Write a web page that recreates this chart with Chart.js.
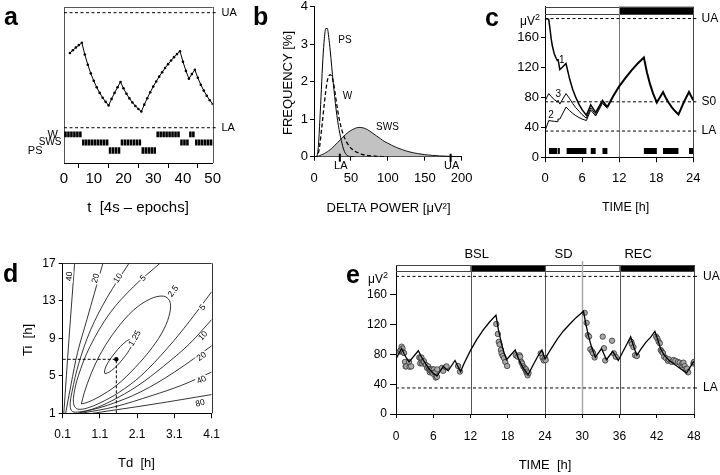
<!DOCTYPE html>
<html><head><meta charset="utf-8">
<script src="https://cdn.jsdelivr.net/npm/chart.js@4.4.1/dist/chart.umd.min.js"></script>
<style>
html,body{margin:0;padding:0;background:#fff;}
#wrap{position:relative;width:720px;height:475px;overflow:hidden;background:#fff;}
canvas{position:absolute;left:0;top:0;width:720px;height:475px;}
</style></head><body>
<div id="wrap">
<canvas id="ca" width="720" height="475"></canvas>
<canvas id="cb" width="720" height="475"></canvas>
<canvas id="cc" width="720" height="475"></canvas>
<canvas id="cd" width="720" height="475"></canvas>
<canvas id="ce" width="720" height="475"></canvas>
</div>
<script>
// ---------------- DATA ----------------
const UA = 185, LA = 35, S0 = 74;

// panel a
const aTicks = [0,10,20,30,40,50];
const aEpoch = [2,3,4,5,6,7,8,9,10,11,12,13,14,15,16,17,18,19,20,21,22,23,24,25,26,27,28,29,30,31,32,33,34,35,36,37,38,39,40,41,42,43,44,45,46,47,48,49,50];
const aS = [132.4,136.1,139.5,142.7,145.7,130.4,117.2,105.9,96.1,87.7,80.4,74.1,68.7,64.1,72.6,80.4,87.8,94.6,86.4,79.3,73.2,67.9,63.4,59.5,56.1,65.1,73.5,81.3,88.6,95.3,101.6,107.4,112.9,117.9,122.6,127.0,131.0,134.8,121.0,109.1,98.9,104.9,110.5,100.1,91.1,83.4,76.7,70.9,66.0];
const aStages = ['W','W','W','W','W','W','SWS','SWS','SWS','SWS','SWS','SWS','SWS','SWS','SWS','PS','PS','PS','PS','SWS','SWS','SWS','SWS','SWS','SWS','SWS','PS','PS','PS','PS','PS','W','W','W','W','W','W','W','W','SWS','SWS','SWS','W','W','SWS','SWS','SWS','SWS','SWS','SWS'];

// panel b
const bXTicks = [0,50,100,150,200];
const bYTicks = [0,1,2,3,4];
const bDelta = [0,2,4,6,8,10,12,14,16,18,20,22,24,26,28,30,32,34,36,38,40,45,50,55,60,65,70,75,80,85,90,95,100,110,120,130,140,150,160,170,180,190,200];
const bPS  = [0,0,0.02,0.3,1.0,1.8,2.6,3.15,3.42,3.42,3.18,2.82,2.4,1.98,1.6,1.25,0.96,0.72,0.52,0.35,0.2,0.03,0.005,0,0,0,0,0,0,0,0,0,0,0,0,0,0,0,0,0,0,0,0];
const bW   = [0,0,0.01,0.1,0.33,0.68,1.05,1.42,1.76,2.02,2.15,2.19,2.14,2.0,1.78,1.5,1.24,1.02,0.84,0.69,0.57,0.36,0.23,0.15,0.1,0.065,0.04,0.025,0.015,0.01,0.005,0,0,0,0,0,0,0,0,0,0,0,0];
const bSWS = [0,0,0.005,0.015,0.03,0.05,0.065,0.085,0.11,0.13,0.16,0.19,0.22,0.26,0.3,0.34,0.38,0.42,0.46,0.5,0.54,0.63,0.7,0.75,0.78,0.775,0.745,0.69,0.62,0.55,0.48,0.41,0.36,0.26,0.185,0.125,0.085,0.055,0.035,0.022,0.013,0.007,0.004];

// panel c
const cXTicks = [0,6,12,18,24];
const cYTicks = [0,40,80,120,160];
const cT1 = [0,0.6,0.8,1.0,1.2,1.5,1.8,2.0,2.1,2.4,2.8,3.4,4.0,4.5,5.0,5.5,6.0,6.7,7.4,8.2,9.3,10.1,11,12,13,14,15,16,16.5,17,17.5,18.1,19.1,19.5,20,20.5,21,21.6,22,22.5,23.3,24];
const cV1 = [185,184,172,158,148,138,132,129,131,117,120,125,104,90,79.5,70.5,63.5,56,70,60,76,67,81,94.5,105.5,116,125,133,113,97.5,85,73,87,80,73,67,62,57,64.5,74,87,76];
const cT23 = [0,0.6,1.0,1.5,2.0,2.1,2.4,3.4,4.0,4.5,5.0,5.5,6.0,6.7,7.4,8.2,9.3,10.1];
const cV3 = [75,85,81,77,74,76,71,85,78,71.5,66,61.5,57,52,66,57,74,66];
const cV2 = [35,49,48.5,48,47.5,51,51,67,62,58.5,55.5,53,51,49,63,55,72,65];
const cSleep = [[0.65,2.0],[2.1,2.4],[3.5,6.7],[7.4,8.2],[9.3,10.1],[16.0,18.1],[19.1,21.6],[23.3,24]];
const cDark = [[12,24]];
const cBounds = [12];

// panel d
const dXTicks = [0.1,1.1,2.1,3.1,4.1];
const dYTicks = [1,5,9,13,17];
const dC40L = [[0.13,1],[0.27,9],[0.42,17]];
const dC20L = [[0.18,1],[0.32,4],[0.5,7.5],[0.75,11],[0.95,13.8],[1.18,17]];
const dC10  = [[1.88,17],[1.3,13.4],[0.85,9.9],[0.53,6.3],[0.35,3.3],[0.3,1.8],[0.36,1.2],[0.55,1.15],[0.9,1.45],[1.4,2.3],[2.1,3.9],[2.8,6.0],[3.5,8.4],[4.1,11.0]];
const dC5   = [[2.71,17],[2.0,14.5],[1.37,11.7],[0.83,8.1],[0.52,5.0],[0.4,3.0],[0.4,1.9],[0.5,1.45],[0.75,1.55],[1.1,2.1],[1.6,3.2],[2.2,5.0],[2.9,7.9],[3.5,10.8],[4.1,13.97]];
const dC2_5 = [[0.6,2.0],[0.68,3.2],[0.86,5.2],[1.15,7.6],[1.55,10.0],[2.0,12.0],[2.45,13.2],[2.8,13.5],[2.97,13.0],[2.98,11.8],[2.82,10.0],[2.5,8.0],[2.05,5.9],[1.55,4.0],[1.05,2.7],[0.75,2.15],[0.6,2.0]];
const dC1_25= [[1.99,9.0],[1.953,8.215],[1.715,6.795],[1.415,5.571],[1.23,5.26],[1.267,6.045],[1.505,7.465],[1.805,8.689],[1.99,9.0]];
const dC20R = [[0.5,1.0],[1.3,1.85],[2.2,3.3],[3.1,5.4],[4.1,8.2]];
const dC40R = [[0.6,1.0],[1.5,1.7],[2.5,2.9],[3.3,4.0],[4.1,5.4]];
const dC80  = [[0.9,1.0],[2.5,1.95],[4.1,3.0]];
const dOptTd = 1.54, dOptTi = 6.76;
const dLabels = [
  {t:'40',x:0.28,y:15.6,r:-86},{t:'20',x:0.99,y:15.4,r:-74},{t:'10',x:1.59,y:15.4,r:-57},{t:'5',x:2.26,y:15.4,r:-42},
  {t:'2.5',x:3.07,y:14.0,r:-55},{t:'1.25',x:2.04,y:9.0,r:-60},
  {t:'5',x:3.86,y:12.3,r:-53},{t:'10',x:3.87,y:9.25,r:-48},{t:'20',x:3.83,y:7.04,r:-35},{t:'40',x:3.83,y:4.55,r:-24},{t:'80',x:3.79,y:2.07,r:-15}
];

// panel e
const eXTicks = [0,6,12,18,24,30,36,42,48];
const eYTicks = [0,40,80,120,160];
const eModelT = [0,0.9,1.3,1.7,2.1,3.6,4.2,4.8,5.4,6.0,6.6,7.6,8.4,9.5,10.4,11,12,13,14,15,16.1,16.5,17,17.4,17.8,19.2,19.8,20.4,20.9,21.3,22,22.8,23.5,24,25,26,27,28,29,30.2,30.6,31,31.5,32.1,33.1,33.9,34.9,35.8,36.5,37.2,37.8,38.3,38.8,39.5,40.3,41,41.7,42.2,42.6,43.2,44,45,46,46.8,47.9,48];
const eModelV = [74,88,81,75,70,85,75,67,60,55,51,64,58,72,57,68.5,85.5,100,112.5,123,133,113,94.5,82.5,73,86,73,63,57,53,64.5,77,86,74,88,101,112,121,129.5,138,120,105,90,76,88,73,84,72,83,94,104,90,79,88,97,103,111,99,88,79,72,66,60,55,70,69];
const eObsT = [0.6,0.75,0.9,1.05,1.1,1.3,1.45,1.55,1.65,2.1,2.2,2.45,
  3.75,3.9,3.95,4.1,4.2,4.4,4.5,4.8,5.0,5.2,5.3,5.45,5.5,5.6,5.8,5.85,6.0,6.1,6.2,6.3,6.4,6.6,6.65,7.4,7.6,8.0,8.15,10.0,10.3,
  16.15,16.4,16.55,16.7,16.9,17.0,17.2,17.4,17.6,17.9,
  19.3,19.6,19.9,20.0,20.2,20.3,20.5,20.7,20.8,20.95,21.0,21.1,21.2,21.35,
  23.3,23.6,23.8,24.0,24.1,
  30.4,30.7,30.9,31.1,31.3,31.6,31.75,32.0,
  33.3,33.5,33.7,34.8,35.1,35.4,
  37.9,38.0,38.25,38.5,38.8,
  41.9,42.1,42.3,42.5,42.65,42.8,43.0,43.2,43.5,43.8,43.95,44.4,44.7,45.0,45.4,45.7,46.0,46.15,46.3,46.5,46.65,46.9,47.05,47.9,48.0];
const eObsV = [84,86,90.5,88,83,82,70,64,64,70,63.5,64,
  76,68,75,76,68,70,71,66,62,64,60,56,60,58,56,60,54,60,56,56,49,50,60,62,58,63,64,64.5,57,
  121,107.5,97,93.5,86,81.5,78,75,70,64.5,
  79,77,79,77,70,68,64,62,60,60,56,57,52,55,
  81.5,75.5,72,75,72.5,
  136,122.5,106,104,87,84,81.5,76,
  104,88.5,72,98.5,81.5,77,
  97,94,90,79,78,
  104,101.5,97.5,95,86,84,82,77,75,71.5,73.5,70,72.5,71.5,70,69,66,68,69,64.5,60.5,61,56,68,70];
const eDark = [[12,24],[36,48]];
const eBounds = [12,24,30,36];
const ePhases = ['BSL','SD','REC'];
const ePhaseAt = [13,27,39];

// ---------------- HELPERS ----------------
const FONT = '"Liberation Sans", Arial, Helvetica, sans-serif';
Chart.defaults.font.family = FONT;
Chart.defaults.color = '#000';
Chart.defaults.plugins.colors = Chart.defaults.plugins.colors || {};
Chart.defaults.plugins.colors.enabled = false;
Chart.defaults.elements.point.radius = 0;
Chart.defaults.elements.line.tension = 0;
Chart.defaults.elements.line.borderWidth = 1;
Chart.defaults.elements.line.borderColor = '#000';
const K = '#000';
const W = 720, H = 475;
const px = v => Math.round(v) + 0.5;
function pad(L,T,R,B,yW,xH){ return {left:L-yW, top:T, right:W-R, bottom:H-B-xH}; }
function txt(ctx,s,x,y,o){ o=o||{}; ctx.save(); ctx.font=(o.bold?'bold ':'')+(o.size||12)+'px '+FONT; ctx.fillStyle=o.color||'#000';
  ctx.textAlign=o.align||'center'; ctx.textBaseline=o.base||'middle'; ctx.translate(x,y); if(o.rot) ctx.rotate(o.rot*Math.PI/180);
  if(o.bg){ const w=ctx.measureText(s).width; ctx.fillStyle='#fff'; ctx.fillRect(-w/2-1,-(o.size||12)*0.45,w+2,(o.size||12)*0.9); ctx.fillStyle=o.color||'#000'; }
  ctx.fillText(s,0,0); ctx.restore(); }
function seg(ctx,x1,y1,x2,y2,o){ o=o||{}; ctx.save(); ctx.strokeStyle=o.color||'#000'; ctx.lineWidth=o.w||1; if(o.dash) ctx.setLineDash(o.dash);
  ctx.beginPath(); ctx.moveTo(x1,y1); ctx.lineTo(x2,y2); ctx.stroke(); ctx.restore(); }
function muV(ctx,xr,yb,size){ ctx.save(); ctx.fillStyle='#000'; ctx.textBaseline='alphabetic'; ctx.textAlign='left';
  const s2=Math.round(size*0.72); ctx.font=size+'px '+FONT; const w1=ctx.measureText('μV').width;
  ctx.font=s2+'px '+FONT; const w2=ctx.measureText('2').width;
  ctx.font=size+'px '+FONT; ctx.fillText('μV',xr-w1-w2,yb); ctx.font=s2+'px '+FONT; ctx.fillText('2',xr-w2,yb-size*0.42); ctx.restore(); }
function ax(o){
  return { type:'linear', min:o.min, max:o.max, offset:false, display:o.display!==false,
    afterBuildTicks: s => { s.ticks = o.ticks.map(v => ({value:v})); },
    afterFit: s => { if (s.isHorizontal()) s.height = o.fit; else s.width = o.fit; s.paddingTop=0; s.paddingBottom=0; s.paddingLeft=0; s.paddingRight=0; },
    grid:{display:true, drawOnChartArea:false, drawTicks:true, tickLength:o.tl||5, color:'#000', lineWidth:1},
    border:{display:true, color:'#000', width:1},
    ticks:{display:true, color:'#000', padding:o.pad, font:{size:o.fs, family:FONT}, maxRotation:0, autoSkip:false, callback:o.cb || (v => String(v))}
  };
}
function opts(padding, scales){
  return { responsive:false, animation:false, devicePixelRatio:1, events:[], layout:{padding},
    plugins:{legend:{display:false}, tooltip:{enabled:false}, title:{display:false}, colors:{enabled:false}}, scales };
}
const pts = (xs, ys) => xs.map((x,i) => ({x, y:ys[i]}));
const pairs = arr => arr.map(p => ({x:p[0], y:p[1]}));
const hline = (x0,x1,y) => [{x:x0,y},{x:x1,y}];
const dashed = (x0,x1,y) => ({data:hline(x0,x1,y), borderColor:K, borderWidth:1, borderDash:[3,2.5]});

// ---------------- PANEL A ----------------
const aRow = {W:[22.5,30], SWS:[11.8,19.5], PS:[1.2,9.5]};
new Chart(document.getElementById('ca'), {
  type:'line',
  data:{datasets:[
    {data:pts(aEpoch,aS), borderColor:K, borderWidth:1, pointRadius:1.3, pointBackgroundColor:K, pointBorderWidth:0},
    dashed(0,50,UA),
    dashed(0,50,LA),
    {type:'bar', data:aStages.map((s,i)=>({x:i+0.5, y:aRow[s]})), backgroundColor:'#000', borderWidth:0, barPercentage:1, categoryPercentage:0.86, grouped:false}
  ]},
  options:opts(pad(64,7,212.7,163,0,30), {
    x:ax({min:0,max:50,ticks:aTicks,fit:30,fs:15,pad:2,tl:5}),
    y:{type:'linear', display:false, min:-11, max:192.4}
  }),
  plugins:[{id:'pa',
    beforeDatasetsDraw(ch){ const c=ch.ctx,a=ch.chartArea;
      seg(c,px(a.left),a.top,px(a.left),a.bottom,{color:'#555'});
      seg(c,a.left,px(a.top),a.right,px(a.top),{color:'#555'});
      seg(c,px(a.right),a.top,px(a.right),a.bottom,{color:'#555'}); },
    afterDraw(ch){ const c=ch.ctx,a=ch.chartArea,ys=ch.scales.y;
      [['UA',UA],['LA',LA]].forEach(([s,v])=>{ const y=ys.getPixelForValue(v); seg(c,a.right,y,a.right+5,y,{dash:[3,2]}); txt(c,s,221.5,y,{size:11,align:'left'}); });
      txt(c,'W',58,134.5,{size:11,align:'right'});
      txt(c,'SWS',61.5,142.5,{size:10,align:'right'});
      txt(c,'PS',42.5,150.5,{size:11,align:'right'});
      txt(c,'t  [4s – epochs]',138,208,{size:15});
      txt(c,'a',4,25,{size:25,bold:true,align:'left',base:'alphabetic'}); }
  }]
});

// ---------------- PANEL B ----------------
new Chart(document.getElementById('cb'), {
  type:'line',
  data:{datasets:[
    {data:pts(bDelta,bPS).filter(p=>p.x<=55), borderColor:K, borderWidth:1, cubicInterpolationMode:'monotone'},
    {data:pts(bDelta,bW).filter(p=>p.x<=100), borderColor:K, borderWidth:1.3, borderDash:[4,2.5], cubicInterpolationMode:'monotone'},
    {data:pts(bDelta,bSWS), borderColor:K, borderWidth:0.9, backgroundColor:'#c2c2c2', fill:'origin', cubicInterpolationMode:'monotone'}
  ]},
  options:opts(pad(314,6.7,461.7,156.7,40,40), {
    x:ax({min:0,max:200,ticks:bXTicks,fit:40,fs:13,pad:10,tl:4}),
    y:ax({min:0,max:4,ticks:bYTicks,fit:40,fs:13,pad:2,tl:4})
  }),
  plugins:[{id:'pb',
    afterDraw(ch){ const c=ch.ctx,xs=ch.scales.x,ys=ch.scales.y; const y0=ys.getPixelForValue(0);
      [['LA',LA],['UA',UA]].forEach(([s,v])=>{ const x=xs.getPixelForValue(v); seg(c,x,y0-3,x,y0+5,{w:2}); txt(c,s,x+1,166,{size:11}); });
      txt(c,'PS',345,40,{size:10}); txt(c,'W',347.5,96.7,{size:10}); txt(c,'SWS',387.5,127.5,{size:10});
      txt(c,'DELTA POWER [μV²]',388.5,208,{size:13});
      txt(c,'FREQUENCY [%]',288,83,{size:13,rot:-90});
      txt(c,'b',253,25,{size:25,bold:true,align:'left',base:'alphabetic'}); }
  }]
});

// ---------------- PANEL C ----------------
const cSleepData = [];
cSleep.forEach(([f,t],i)=>{ if(i) cSleepData.push({x:f-0.01,y:null}); cSleepData.push({x:f,y:8.5},{x:t,y:8.5}); });
const c1a = pts(cT1,cV1).filter(p=>p.x<=10.1), c1b = pts(cT1,cV1).filter(p=>p.x>=10.1);
new Chart(document.getElementById('cc'), {
  type:'line',
  data:{datasets:[
    {data:c1b, borderColor:K, borderWidth:2},
    {data:c1a, borderColor:K, borderWidth:1.5},
    {data:pts(cT23,cV3), borderColor:K, borderWidth:1},
    {data:pts(cT23,cV2), borderColor:K, borderWidth:1},
    {data:cSleepData, borderColor:K, borderWidth:6, borderCapStyle:'butt', spanGaps:false},
    dashed(0,24,UA), dashed(0,24,S0), dashed(0,24,LA)
  ]},
  options:opts(pad(545,6.7,693.3,157.3,40,40), {
    x:ax({min:0,max:24,ticks:cXTicks,fit:40,fs:13,pad:8,tl:5}),
    y:ax({min:0,max:200.8,ticks:cYTicks,fit:40,fs:13,pad:2,tl:4})
  }),
  plugins:[{id:'pc',
    beforeDatasetsDraw(ch){ const c=ch.ctx,a=ch.chartArea,xs=ch.scales.x; const yb=a.top+7.3;
      c.save(); c.fillStyle='#000';
      cDark.forEach(([f,t])=>{ const x0=xs.getPixelForValue(f),x1=xs.getPixelForValue(t); c.fillRect(x0,a.top,x1-x0,yb-a.top); });
      c.restore();
      seg(c,a.left,px(a.top),a.right,px(a.top),{color:'#444'});
      seg(c,a.left,px(yb),a.right,px(yb),{color:'#444'});
      seg(c,px(a.right),a.top,px(a.right),a.bottom,{color:'#444'});
      cBounds.forEach(b=>{ const x=px(xs.getPixelForValue(b)); seg(c,x,a.top,x,a.bottom,{color:'#777'}); }); },
    afterDraw(ch){ const c=ch.ctx,a=ch.chartArea,ys=ch.scales.y;
      [['UA',UA],['S0',S0],['LA',LA]].forEach(([s,v])=>{ const y=ys.getPixelForValue(v); seg(c,a.right,y,a.right+4,y,{dash:[3,2]}); txt(c,s,701.5,y,{size:12,align:'left'}); });
      muV(c,540,25,12);
      txt(c,'1',561.7,60,{size:10}); txt(c,'3',558.3,94.3,{size:10}); txt(c,'2',551,115,{size:10});
      txt(c,'TIME [h]',625.5,208,{size:12.5});
      txt(c,'c',485,25.7,{size:25,bold:true,align:'left',base:'alphabetic'}); }
  }]
});

// ---------------- PANEL D ----------------
const contour = arr => ({data:pairs(arr), borderWidth:0.85, borderColor:'#111', tension:0.35});
new Chart(document.getElementById('cd'), {
  type:'line',
  data:{datasets:[
    {data:[{x:dOptTd,y:dOptTi}], showLine:false, pointRadius:2.2, pointBackgroundColor:K, pointBorderWidth:0},
    {data:[{x:0.1,y:dOptTi},{x:dOptTd,y:dOptTi}], borderColor:K, borderDash:[3,2], borderWidth:1},
    {data:[{x:dOptTd,y:1},{x:dOptTd,y:dOptTi}], borderColor:K, borderDash:[3,2], borderWidth:1},
    contour(dC40L), contour(dC20L), contour(dC10), contour(dC5), contour(dC2_5), contour(dC1_25),
    contour(dC20R), contour(dC40R), contour(dC80)
  ]},
  options:opts(pad(62.7,263.3,211.7,413.3,40,40), {
    x:ax({min:0.1,max:4.1,ticks:dXTicks,fit:40,fs:12,pad:9,tl:5,cb:v=>v.toFixed(1)}),
    y:ax({min:1,max:17,ticks:dYTicks,fit:40,fs:12,pad:3,tl:4})
  }),
  plugins:[{id:'pd',
    beforeDatasetsDraw(ch){ const c=ch.ctx,a=ch.chartArea;
      seg(c,a.left,px(a.top),a.right,px(a.top),{color:'#333'});
      seg(c,px(a.right),a.top,px(a.right),a.bottom,{color:'#333'}); },
    afterDraw(ch){ const c=ch.ctx,xs=ch.scales.x,ys=ch.scales.y;
      dLabels.forEach(l=>txt(c,l.t,xs.getPixelForValue(l.x),ys.getPixelForValue(l.y),{size:8.5,rot:l.r,bg:true}));
      txt(c,'Td  [h]',136.5,463,{size:13});
      txt(c,'Ti  [h]',28.5,340,{size:13,rot:-90});
      txt(c,'d',3,281.7,{size:25,bold:true,align:'left',base:'alphabetic'}); }
  }]
});

// ---------------- PANEL E ----------------
new Chart(document.getElementById('ce'), {
  type:'line',
  data:{datasets:[
    {data:pts(eModelT,eModelV), borderWidth:1.3, borderColor:K},
    {data:pts(eObsT,eObsV), showLine:false, pointRadius:2.7, pointBackgroundColor:'#a9a9a9', pointBorderColor:'#333', pointBorderWidth:0.8},
    dashed(0,48,UA), dashed(0,48,LA)
  ]},
  options:opts(pad(396,265,694,414,40,40), {
    x:ax({min:0,max:48,ticks:eXTicks,fit:40,fs:12,pad:11,tl:4}),
    y:ax({min:0,max:200.3,ticks:eYTicks,fit:40,fs:12,pad:3,tl:6})
  }),
  plugins:[{id:'pe',
    beforeDatasetsDraw(ch){ const c=ch.ctx,a=ch.chartArea,xs=ch.scales.x; const yb=a.top+6;
      c.save(); c.fillStyle='#000';
      eDark.forEach(([f,t])=>{ const x0=xs.getPixelForValue(f),x1=xs.getPixelForValue(t); c.fillRect(x0,a.top,x1-x0,yb-a.top); });
      c.restore();
      seg(c,a.left,px(a.top),a.right,px(a.top),{color:'#444'});
      seg(c,a.left,px(yb),a.right,px(yb),{color:'#444'});
      seg(c,px(a.right),a.top,px(a.right),a.bottom,{color:'#444'});
      eBounds.forEach(b=>{ const x=px(xs.getPixelForValue(b)); const mid=(b===30);
        seg(c,x,mid?a.top-4:a.top,x,a.bottom,{color:mid?'#aaa':'#555',w:mid?1.5:1}); }); },
    afterDraw(ch){ const c=ch.ctx,a=ch.chartArea,xs=ch.scales.x,ys=ch.scales.y;
      [['UA',UA],['LA',LA]].forEach(([s,v])=>{ const y=ys.getPixelForValue(v); seg(c,a.right,y,a.right+5,y,{dash:[3,2]}); txt(c,s,703,y,{size:12,align:'left'}); });
      ePhases.forEach((s,i)=>txt(c,s,xs.getPixelForValue(ePhaseAt[i]),254,{size:13}));
      muV(c,388,283,12);
      txt(c,'TIME  [h]',545,465,{size:13});
      txt(c,'e',346,283,{size:25,bold:true,align:'left',base:'alphabetic'}); }
  }]
});
</script>
</body></html>
